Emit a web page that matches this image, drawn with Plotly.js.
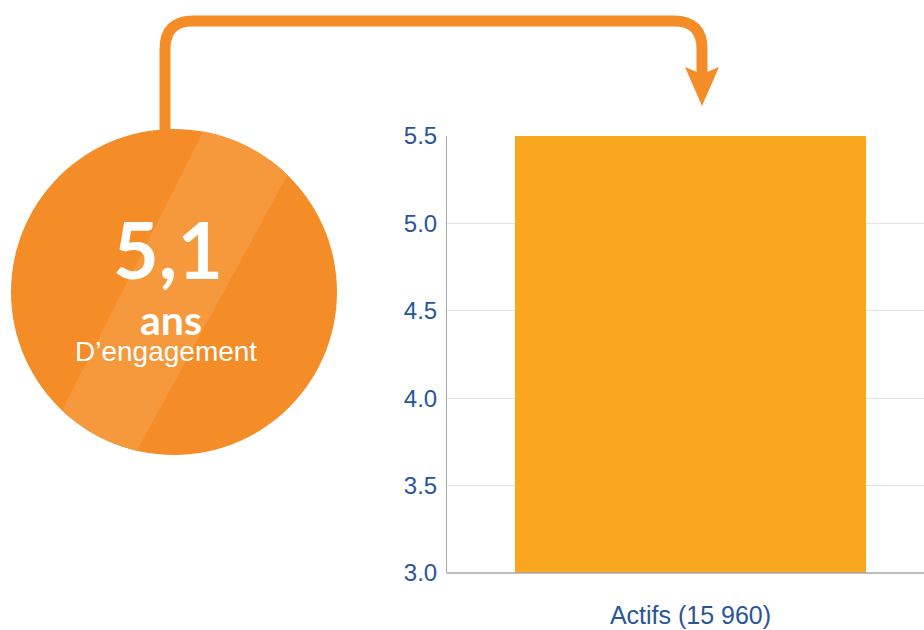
<!DOCTYPE html>
<html><head><meta charset="utf-8">
<script src="https://cdn.plot.ly/plotly-3.0.1.min.js"></script>
<style>html,body{margin:0;padding:0;overflow:hidden;background:#fff}</style>
</head><body><div id="chart" style="width:924px;height:630px"></div>
<script>
// Data
const categories = ["Actifs (15 960)"];
const values = [5.5];
const yTickVals = [3.0, 3.5, 4.0, 4.5, 5.0, 5.5];
const yTickText = ["3.0", "3.5", "4.0", "4.5", "5.0", "5.5"];
const bigNumber = "5,1";
const unitLabel = "ans";
const subLabel = "D\u2019engagement";

const W = 924, H = 630, L = 447, R = 0, T = 136, B = 57;
const pw = W - L - R, ph = H - T - B;
const px = x => (x - L) / pw;
const py = y => (H - B - y) / ph;
const P = (x, y) => px(x).toFixed(5) + "," + py(y).toFixed(5);

const orange = "#F48C28", bandCol = "#F6993C";

// circle geometry (pixels)
const cx = 174, cy = 292, r = 163;
function circlePath() {
  let d = "";
  for (let i = 0; i <= 120; i++) {
    const a = i / 120 * 2 * Math.PI;
    d += (i ? " L" : "M") + P(cx + r * Math.cos(a), cy + r * Math.sin(a));
  }
  return d + " Z";
}
function arc(a0, a1, n) {
  let d = "";
  for (let i = 1; i <= n; i++) {
    const a = a0 + (a1 - a0) * i / n;
    d += " L" + P(cx + r * Math.cos(a), cy + r * Math.sin(a));
  }
  return d;
}
const ang = (x, y) => Math.atan2(y - cy, x - cx);
const p1 = [203, 132], p2 = [63, 409], p3 = [137, 450], p4 = [287, 176];
function bandPath() {
  let d = "M" + P(p1[0], p1[1]) + " L" + P(p2[0], p2[1]);
  d += arc(ang(p2[0], p2[1]), ang(p3[0], p3[1]), 20);
  d += " L" + P(p4[0], p4[1]);
  d += arc(ang(p4[0], p4[1]), ang(p1[0], p1[1]), 20);
  return d + " Z";
}
const arrowLine = "M" + P(165, 140) + " L" + P(165, 49) + " Q" + P(165, 21) + " " + P(193, 21) +
  " L" + P(674, 21) + " Q" + P(702, 21) + " " + P(702, 49) + " L" + P(702, 74);
const arrowHead = "M" + P(685, 67) + " L" + P(697, 72) + " L" + P(707, 72) + " L" + P(719, 67) + " L" + P(702, 106) + " Z";

const trace = {
  type: "bar", x: categories, y: values,
  width: 0.721,
  marker: { color: "#F8A71E", line: { width: 0 } },
  hoverinfo: "none"
};

const layout = {
  width: W, height: H,
  margin: { l: L, r: R, t: T, b: B, pad: 0 },
  paper_bgcolor: "#fff", plot_bgcolor: "#fff",
  showlegend: false,
  font: { family: "Liberation Sans, Arial, sans-serif", color: "#2A5599" },
  xaxis: {
    range: [-0.5, 0.4795], fixedrange: true,
    showgrid: false, zeroline: false,
    showline: false, ticks: "", ticklabelstandoff: 25,
    tickfont: { size: 25, color: "#2A5599", family: "Liberation Sans, Arial, sans-serif" }
  },
  yaxis: {
    range: [3.0, 5.5], fixedrange: true,
    tickvals: yTickVals, ticktext: yTickText,
    showgrid: true, gridcolor: "#E3E3E3", gridwidth: 1,
    zeroline: false, showline: true, linecolor: "#A8A8A8", linewidth: 1,
    ticks: "", ticklabelstandoff: 4,
    tickfont: { size: 24, color: "#2A5599", family: "Liberation Sans, Arial, sans-serif" }
  },
  shapes: [
    { type: "line", xref: "paper", yref: "paper", x0: 0, x1: px(W + 20), y0: 0, y1: 0, line: { color: "#A8A8A8", width: 1.5 }, layer: "above" },
    { type: "path", xref: "paper", yref: "paper", path: arrowLine, line: { color: orange, width: 11 }, fillcolor: "rgba(0,0,0,0)" },
    { type: "path", xref: "paper", yref: "paper", path: arrowHead, line: { width: 0 }, fillcolor: orange },
    { type: "path", xref: "paper", yref: "paper", path: circlePath(), line: { width: 0 }, fillcolor: orange },
    { type: "path", xref: "paper", yref: "paper", path: bandPath(), line: { width: 0 }, fillcolor: bandCol }
  ],
  annotations: [
    { xref: "paper", yref: "paper", x: px(168), y: py(248), text: "<b>" + bigNumber + "</b>", showarrow: false,
      xanchor: "center", yanchor: "middle", font: { family: "Lato, Noto Sans, sans-serif", size: 79, color: "#fff", weight: 900 } },
    { xref: "paper", yref: "paper", x: px(171), y: py(319), text: "<b>" + unitLabel + "</b>", showarrow: false,
      xanchor: "center", yanchor: "middle",
      font: { family: "Lato, Noto Sans, sans-serif", size: 41, color: "#fff", weight: 900 } },
    { xref: "paper", yref: "paper", x: px(166), y: py(351), text: subLabel, showarrow: false,
      xanchor: "center", yanchor: "middle",
      font: { family: "Liberation Sans, Arial, sans-serif", size: 28, color: "#fff" } }
  ]
};

Plotly.newPlot("chart", [trace], layout, { displayModeBar: false, staticPlot: true });
</script>
</body></html>
